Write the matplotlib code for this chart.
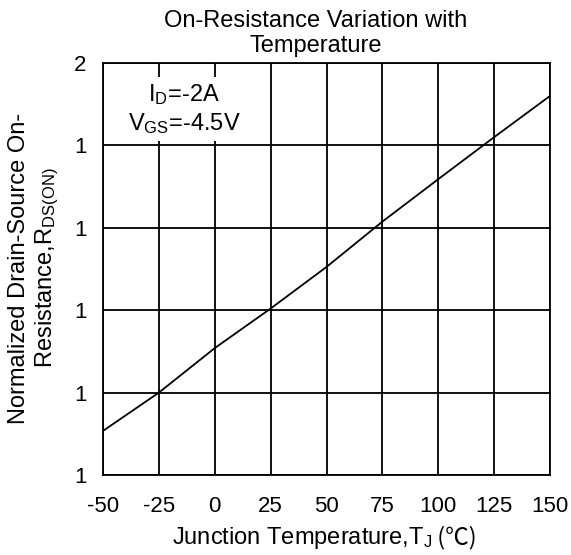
import matplotlib
matplotlib.use("Agg")
import matplotlib.pyplot as plt
from matplotlib.ticker import FixedLocator, FormatStrFormatter

plt.rcParams['font.family'] = ['Liberation Sans', 'Noto Sans CJK SC', 'DejaVu Sans']
plt.rcParams['mathtext.fontset'] = 'custom'
plt.rcParams['mathtext.rm'] = 'Liberation Sans'
plt.rcParams['mathtext.it'] = 'Liberation Sans'
plt.rcParams['axes.unicode_minus'] = False

# Data
temperature = [-50, -25, 0, 25, 50, 75, 100, 125, 150]
rds_norm = [0.707, 0.800, 0.908, 1.004, 1.105, 1.215, 1.318, 1.420, 1.520]
x_ticks = [-50, -25, 0, 25, 50, 75, 100, 125, 150]
y_ticks = [0.6, 0.8, 1.0, 1.2, 1.4, 1.6]

fig = plt.figure(figsize=(5.71, 5.55), dpi=100)
ax = fig.add_axes([103/571, 1-475/555, 447/571, 412/555])

ax.plot(temperature, rds_norm, color='black', lw=1.3, zorder=3)
ax.set_xlim(-50, 150)
ax.set_ylim(0.6, 1.6)
ax.xaxis.set_major_locator(FixedLocator(x_ticks))
ax.yaxis.set_major_locator(FixedLocator(y_ticks))
ax.yaxis.set_major_formatter(FormatStrFormatter('%.0f'))
ax.grid(True, color='black', lw=1.3)
for s in ax.spines.values():
    s.set_linewidth(1.3)
    s.set_color('black')
ax.tick_params(length=0, labelsize=16)
ax.tick_params(axis='x', pad=15)
ax.tick_params(axis='y', pad=12)

ax.text((184-103)/447, (475-109)/412,
        'I$_\\mathrm{D}$=-2A\nV$_\\mathrm{GS}$=-4.5V',
        transform=ax.transAxes, ha='center', va='center', multialignment='center',
        fontsize=17, zorder=4,
        bbox=dict(facecolor='white', edgecolor='none', pad=4))

fig.text(316/571, 1-33.5/555, 'On-Resistance Variation with\nTemperature',
         ha='center', va='center', multialignment='center', fontsize=17)
fig.text(34.5/571, 1-268/555, 'Normalized Drain-Source On-\nResistance,R$_\\mathrm{DS(ON)}$',
         ha='center', va='center', rotation=90, multialignment='center', fontsize=17)

# x label: main part plus the Celsius sign in a CJK font
base_y = 1 - 544/555
t1 = fig.text(0, base_y, 'Junction Temperature,T$_\\mathrm{J}$', ha='left', va='baseline', fontsize=17)
t2 = fig.text(0, base_y, ' (℃)', ha='left', va='baseline', fontsize=17, family=['Noto Sans CJK SC'])
fig.canvas.draw()
r = fig.canvas.get_renderer()
w1 = t1.get_window_extent(r).width
w2 = t2.get_window_extent(r).width
cx = 324
x0 = cx - (w1 + w2) / 2
t1.set_x(x0 / 571)
t2.set_x((x0 + w1) / 571)

fig.savefig('out.png', dpi=100)
